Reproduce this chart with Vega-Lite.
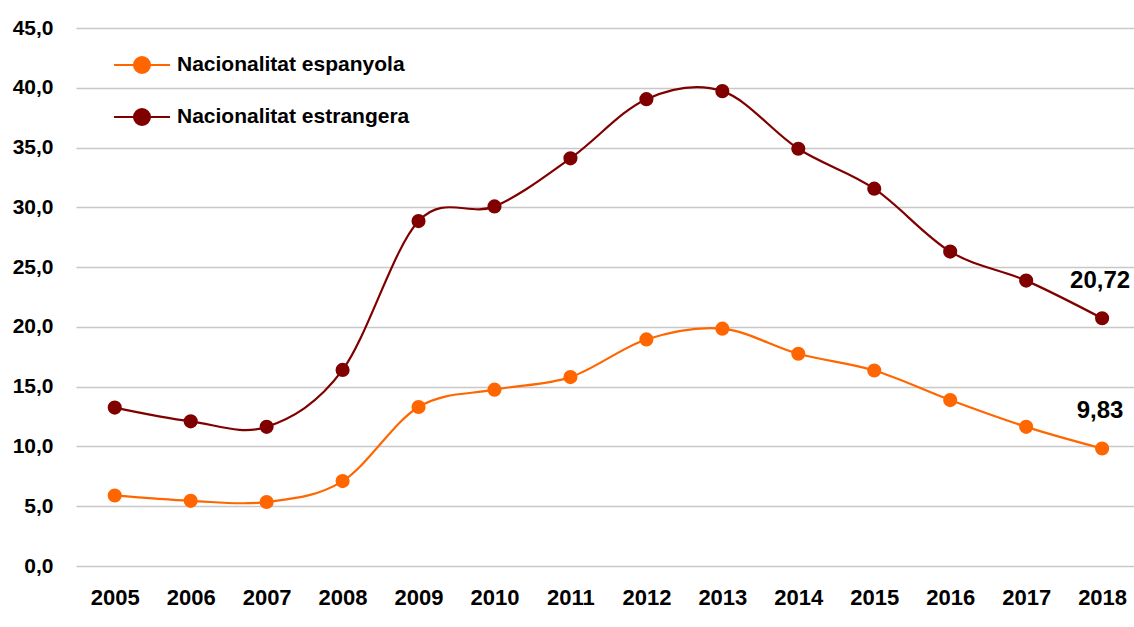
{
  "$schema": "https://vega.github.io/schema/vega-lite/v6.json",
  "width": 1058,
  "height": 538,
  "autosize": {"type": "none"},
  "padding": {"left": 76, "top": 28, "right": 0, "bottom": 61},
  "background": "white",
  "config": {
    "view": {"stroke": null},
    "font": "Liberation Sans, Arial, sans-serif",
    "locale": {"number": {"decimal": ",", "thousands": ".", "grouping": [3], "currency": ["", " €"]}}
  },
  "data": {
    "values": [
      {"year": 2005, "serie": "Nacionalitat espanyola", "value": 5.9},
      {"year": 2006, "serie": "Nacionalitat espanyola", "value": 5.45},
      {"year": 2007, "serie": "Nacionalitat espanyola", "value": 5.35},
      {"year": 2008, "serie": "Nacionalitat espanyola", "value": 7.1},
      {"year": 2009, "serie": "Nacionalitat espanyola", "value": 13.3},
      {"year": 2010, "serie": "Nacionalitat espanyola", "value": 14.75},
      {"year": 2011, "serie": "Nacionalitat espanyola", "value": 15.8},
      {"year": 2012, "serie": "Nacionalitat espanyola", "value": 18.95},
      {"year": 2013, "serie": "Nacionalitat espanyola", "value": 19.85},
      {"year": 2014, "serie": "Nacionalitat espanyola", "value": 17.75},
      {"year": 2015, "serie": "Nacionalitat espanyola", "value": 16.35},
      {"year": 2016, "serie": "Nacionalitat espanyola", "value": 13.88},
      {"year": 2017, "serie": "Nacionalitat espanyola", "value": 11.64},
      {"year": 2018, "serie": "Nacionalitat espanyola", "value": 9.83},
      {"year": 2005, "serie": "Nacionalitat estrangera", "value": 13.25},
      {"year": 2006, "serie": "Nacionalitat estrangera", "value": 12.1},
      {"year": 2007, "serie": "Nacionalitat estrangera", "value": 11.64},
      {"year": 2008, "serie": "Nacionalitat estrangera", "value": 16.4},
      {"year": 2009, "serie": "Nacionalitat estrangera", "value": 28.85},
      {"year": 2010, "serie": "Nacionalitat estrangera", "value": 30.08},
      {"year": 2011, "serie": "Nacionalitat estrangera", "value": 34.1},
      {"year": 2012, "serie": "Nacionalitat estrangera", "value": 39.05},
      {"year": 2013, "serie": "Nacionalitat estrangera", "value": 39.72},
      {"year": 2014, "serie": "Nacionalitat estrangera", "value": 34.9},
      {"year": 2015, "serie": "Nacionalitat estrangera", "value": 31.56},
      {"year": 2016, "serie": "Nacionalitat estrangera", "value": 26.3},
      {"year": 2017, "serie": "Nacionalitat estrangera", "value": 23.87},
      {"year": 2018, "serie": "Nacionalitat estrangera", "value": 20.72}
    ]
  },
  "encoding": {
    "x": {
      "field": "year",
      "type": "quantitative",
      "scale": {"domain": [2004.49, 2018.42], "nice": false, "zero": false},
      "axis": {
        "title": null,
        "values": [2005, 2006, 2007, 2008, 2009, 2010, 2011, 2012, 2013, 2014, 2015, 2016, 2017, 2018],
        "format": "d",
        "grid": false,
        "ticks": false,
        "domain": false,
        "labelFlush": false,
        "labelPadding": 21,
        "labelFontSize": 22,
        "labelFontWeight": "bold",
        "labelColor": "#000000"
      }
    },
    "y": {
      "field": "value",
      "type": "quantitative",
      "scale": {"domain": [0, 45], "nice": false},
      "axis": {
        "title": null,
        "values": [0, 5, 10, 15, 20, 25, 30, 35, 40, 45],
        "format": ".1f",
        "grid": true,
        "gridColor": "#C8C8C8",
        "gridWidth": 1.5,
        "ticks": false,
        "domain": false,
        "labelPadding": 23,
        "labelFontSize": 21,
        "labelFontWeight": "bold",
        "labelColor": "#000000"
      }
    },
    "color": {
      "field": "serie",
      "type": "nominal",
      "scale": {"domain": ["Nacionalitat espanyola", "Nacionalitat estrangera"], "range": ["#FF6600", "#800000"]},
      "legend": {
        "title": null,
        "orient": "none",
        "legendX": 37,
        "legendY": 8,
        "padding": 0,
        "symbolType": "M-1,0L1,0M0.286,0A0.286,0.286,0,1,1,-0.286,0A0.286,0.286,0,1,1,0.286,0Z",
        "symbolSize": 3136,
        "symbolStrokeWidth": 2,
        "rowPadding": 10,
        "labelOffset": 6,
        "labelFontSize": 21,
        "labelFontWeight": "bold",
        "labelColor": "#000000",
        "labelLimit": 400,
        "encode": {
          "symbols": {
            "update": {
              "fill": {"scale": "color", "field": "value"},
              "stroke": {"scale": "color", "field": "value"},
              "fillOpacity": {"value": 1},
              "strokeOpacity": {"value": 1}
            }
          }
        }
      }
    }
  },
  "layer": [
    {
      "mark": {"type": "line", "interpolate": "cardinal", "strokeWidth": 2.2}
    },
    {
      "mark": {"type": "point", "filled": true, "size": 200, "opacity": 1}
    },
    {
      "transform": [{"filter": "datum.year == 2018"}],
      "mark": {"type": "text", "dy": -37, "dx": -2, "fontSize": 24, "fontWeight": "bold", "color": "#000000"},
      "encoding": {
        "text": {"field": "value", "type": "quantitative", "format": ".2f"},
        "color": {"value": "#000000"}
      }
    }
  ]
}
